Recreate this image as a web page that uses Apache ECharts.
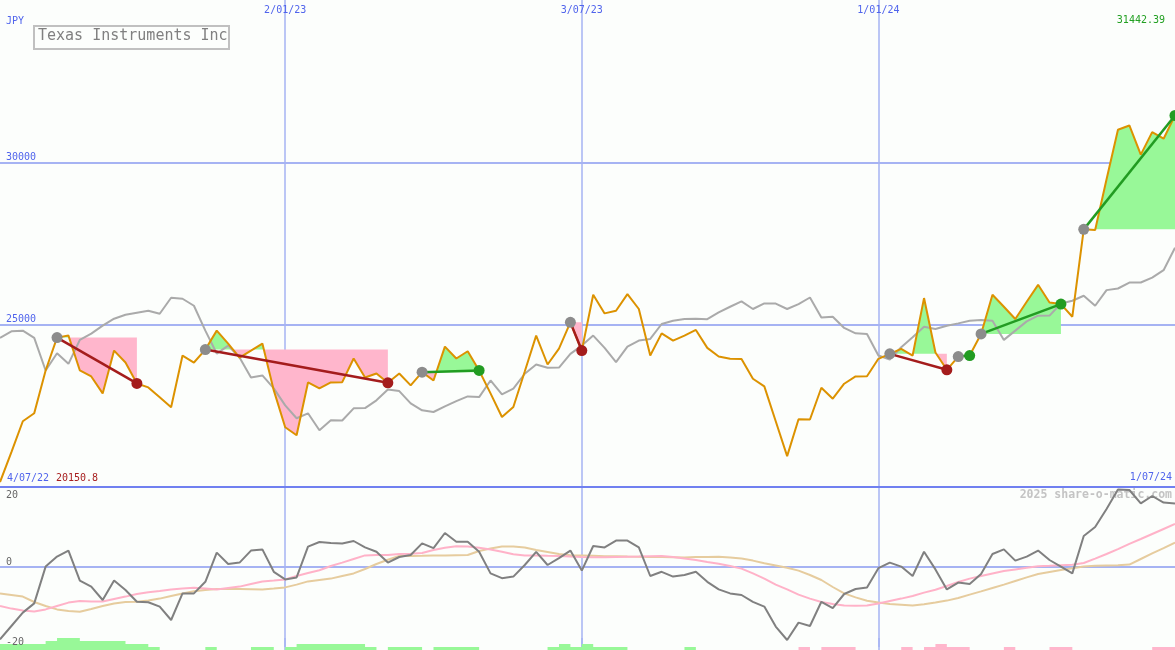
<!DOCTYPE html>
<html>
<head>
<meta charset="utf-8">
<script src="https://cdn.jsdelivr.net/npm/echarts@6/dist/echarts.min.js"></script>
<style>
html,body{margin:0;padding:0;background:#fcfefc;}
#chart{width:1175px;height:650px;}
</style>
</head>
<body>
<div id="chart"></div>
<script>
// ---------- data ----------
const dates = [
'11/07/22','18/07/22','25/07/22','1/08/22','8/08/22','15/08/22','22/08/22','29/08/22','5/09/22','12/09/22','19/09/22','26/09/22','3/10/22','10/10/22','17/10/22','24/10/22','31/10/22','7/11/22','14/11/22','21/11/22','28/11/22','5/12/22','12/12/22','19/12/22','26/12/22',
'2/01/23','9/01/23','16/01/23','23/01/23','30/01/23','6/02/23','13/02/23','20/02/23','27/02/23','6/03/23','13/03/23','20/03/23','27/03/23','3/04/23','10/04/23','17/04/23','24/04/23','1/05/23','8/05/23','15/05/23','22/05/23','29/05/23','5/06/23','12/06/23','19/06/23','26/06/23',
'3/07/23','10/07/23','17/07/23','24/07/23','31/07/23','7/08/23','14/08/23','21/08/23','28/08/23','4/09/23','11/09/23','18/09/23','25/09/23','2/10/23','9/10/23','16/10/23','23/10/23','30/10/23','6/11/23','13/11/23','20/11/23','27/11/23','4/12/23','11/12/23','18/12/23','25/12/23',
'1/01/24','8/01/24','15/01/24','22/01/24','29/01/24','5/02/24','12/02/24','19/02/24','26/02/24','4/03/24','11/03/24','18/03/24','25/03/24','1/04/24','8/04/24','15/04/24','22/04/24','29/04/24','6/05/24','13/05/24','20/05/24','27/05/24','3/06/24','10/06/24','17/06/24','24/06/24','1/07/24'
];
const tickLabels = ['2/01/23','3/07/23','1/01/24'];
const rangeStart = '4/07/22';
const priceTicks = [25000, 30000];
const oscTicks = [20, 0, -20];

const price = [
 20150.8, 21074, 22025, 22270, 23589, 24601, 24663, 23589, 23405, 22883,
 24202, 23834, 23190, 23067, 22761, 22454, 24049, 23834, 24233, 24816,
 24417, 23988, 24202, 24417, 22975, 21840, 21595, 23221, 23037, 23221,
 23230, 23957, 23374, 23497, 23210, 23497, 23129, 23537, 23282, 24325,
 23957, 24181, 23589, 22883, 22156, 22463, 23558, 24663, 23773, 24264,
 25071, 24202, 25920, 25347, 25429, 25942, 25482, 24049, 24733, 24509,
 24663, 24837, 24285, 24018, 23948, 23940, 23334, 23098, 22025, 20951,
 22086, 22080, 23058, 22721, 23181, 23405, 23410, 23948, 24101, 24255,
 24049, 25819, 24141, 23610, 24018, 24049, 24715, 25920, 25552, 25175,
 25706, 26227, 25684, 25635, 25245, 27936, 27914, 29479, 31003, 31135,
 30236, 30929, 30727, 31442.39
];
const avg = [
 24592, 24794, 24816, 24592, 23589, 24120, 23794, 24531, 24724, 24969,
 25184, 25307, 25368, 25429, 25337, 25828, 25798, 25583, 24816, 24110,
 24356, 23988, 23374, 23436, 23037, 22515, 22117, 22270, 21748, 22055,
 22050, 22423, 22430, 22669, 23006, 22954, 22577, 22362, 22310, 22485,
 22647, 22791, 22770, 23282, 22853, 23028, 23488, 23773, 23672, 23680,
 24101, 24356, 24663, 24285, 23844, 24325, 24509, 24561, 25021, 25123,
 25175, 25180, 25170, 25377, 25552, 25715, 25482, 25653, 25650, 25482,
 25635, 25837, 25224, 25245, 24899, 24733, 24715, 24049, 23926, 24304,
 24610, 24939, 24868, 24969, 25040, 25123, 25144, 25120, 24531, 24816,
 25101, 25276, 25280, 25653, 25736, 25890, 25583, 26064, 26114, 26298,
 26300, 26451, 26678, 27371
];
const osc = [
 -18.1, -14.75, -11.4, -9.1, 0.1, 2.6, 4.1, -3.4, -4.9, -8.25,
 -3.4, -5.75, -8.7, -8.8, -9.9, -13.25, -6.6, -6.6, -3.7, 3.6,
 0.75, 1.1, 4.1, 4.4, -1.2, -3.1, -2.6, 5.1, 6.25, 6.0,
 5.9, 6.5, 4.9, 3.8, 1.1, 2.5, 3.0, 5.9, 4.7, 8.5,
 6.3, 6.3, 3.8, -1.6, -2.8, -2.4, 0.5, 3.8, 0.5, 2.2,
 4.1, -0.9, 5.25, 4.9, 6.6, 6.6, 4.9, -2.25, -1.2, -2.4,
 -2.0, -1.2, -3.7, -5.6, -6.6, -7.0, -8.7, -9.9, -14.9, -18.25,
 -13.9, -14.75, -8.7, -10.3, -6.75, -5.5, -5.1, -0.3, 1.1, 0.1,
 -2.25, 3.8, -0.6, -5.6, -3.9, -4.25, -1.75, 3.25, 4.4, 1.6,
 2.6, 4.1, 1.75, 0.1, -1.6, 7.75, 10, 14.5, 19.4, 19.25,
 15.9, 17.75, 16.1, 15.9
];
const oscFast = [
 -9.75, -10.4, -10.9, -11.1, -10.6, -9.75, -8.9, -8.5, -8.6, -8.6,
 -8.0, -7.4, -6.75, -6.3, -6.0, -5.6, -5.4, -5.2, -5.4, -5.6,
 -5.25, -4.9, -4.25, -3.6, -3.4, -3.1, -2.25, -1.5, -0.8, 0.25,
 1.1, 2.0, 2.9, 3.0, 3.0, 3.25, 3.3, 3.5, 4.25, 4.8,
 5.2, 5.1, 4.8, 4.4, 3.8, 3.2, 2.9, 2.9, 2.8, 2.75,
 2.6, 2.5, 2.45, 2.45, 2.5, 2.55, 2.6, 2.7, 2.75, 2.5,
 2.1, 1.75, 1.25, 0.8, 0.25, -0.4, -1.6, -2.9, -4.4, -5.6,
 -6.9, -7.9, -8.75, -9.25, -9.6, -9.7, -9.6, -9.1, -8.5, -7.9,
 -7.25, -6.4, -5.7, -4.75, -3.75, -2.9, -2.25, -1.6, -1.0, -0.6,
 -0.2, 0.2, 0.3, 0.45, 0.55, 1.0, 2.1, 3.25, 4.45, 5.8,
 7.0, 8.25, 9.5, 10.75
];
const oscSlow = [
 -6.6, -7.0, -7.4, -8.75, -9.75, -10.6, -11.0, -11.2, -10.5, -9.75,
 -9.1, -8.75, -8.7, -8.4, -7.9, -7.25, -6.6, -6.05, -5.75, -5.5,
 -5.5, -5.5, -5.55, -5.6, -5.4, -5.1, -4.4, -3.6, -3.25, -2.9,
 -2.25, -1.6, -0.5, 0.75, 1.8, 2.75, 2.75, 2.8, 2.9, 2.9,
 2.95, 3.0, 4.0, 4.6, 5.1, 5.1, 4.9, 4.25, 3.75, 3.25,
 2.95, 2.9, 2.8, 2.7, 2.7, 2.6, 2.55, 2.5, 2.5, 2.45,
 2.4, 2.5, 2.5, 2.55, 2.35, 2.1, 1.6, 0.95, 0.4, -0.2,
 -0.9, -2.0, -3.25, -5.0, -6.6, -7.6, -8.45, -8.9, -9.25, -9.45,
 -9.65, -9.3, -8.9, -8.4, -7.75, -6.9, -6.1, -5.25, -4.4, -3.5,
 -2.6, -1.75, -1.25, -0.75, -0.3, 0.1, 0.3, 0.4, 0.45, 0.6,
 2.0, 3.4, 4.7, 6.1
];
const barsUp = [
 2,2,2,2,3,4,4,3,3,3,
 3,2,2,1,0,0,0,0,1,0,
 0,0,1,1,0,1,2,2,2,2,
 2,2,1,0,1,1,1,0,1,1,
 1,1,0,0,0,0,0,0,1,2,
 1,2,1,1,1,0,0,0,0,0,
 1,0,0,0,0,0,0,0,0,0,
 0,0,0,0,0,0,0,0,0,0,
 0,0,0,0,0,0,0,0,0,0,
 0,0,0,0,0,0,0,0,0,0,
 0,0,0,0
];
const barsDown = [
 0,0,0,0,0,0,0,0,0,0,
 0,0,0,0,0,0,0,0,0,0,
 0,0,0,0,0,0,0,0,0,0,
 0,0,0,0,0,0,0,0,0,0,
 0,0,0,0,0,0,0,0,0,0,
 0,0,0,0,0,0,0,0,0,0,
 0,0,0,0,0,0,0,0,0,0,
 1,0,1,1,1,0,0,0,0,1,
 0,1,2,1,1,0,0,0,1,0,
 0,0,1,1,0,0,0,0,0,0,
 0,1,1,0
];
const tradeEntry = [5, 18, 37, 50, 78, 84, 86, 95];
const tradeExit  = [12, 34, 42, 51, 83, 85, 93, 103];

// ---------- styles ----------
const MONO = '"DejaVu Sans Mono", "Liberation Mono", monospace';
const BLUE = '#5064ec';
const GRID_BLUE = '#a6b3f3';
const GAIN_FILL = '#98f898', LOSS_FILL = '#ffb6cc';
const GAIN_LINE = '#229c22', LOSS_LINE = '#a41c1c';

const chart = echarts.init(document.getElementById('chart'), null, {renderer: 'canvas'});
const showTick = (i, v) => tickLabels.indexOf(v) >= 0;
const vSplit = {show: true, interval: showTick, lineStyle: {color: GRID_BLUE, width: 1.5}};

const tradeData = tradeEntry.map((e, k) => [e, price[e], tradeExit[k], price[tradeExit[k]]]);
const isGain = k => price[tradeExit[k]] > price[tradeEntry[k]];

const option = {
  backgroundColor: '#fcfefc',
  animation: false,
  grid: [
    {left: 0, right: 0, top: -2, height: 489},
    {left: 0, right: 0, top: 487, height: 160},
    {left: 0, right: 0, top: 638, height: 12}
  ],
  xAxis: [
    {type: 'category', gridIndex: 0, data: dates, boundaryGap: false, position: 'top',
     axisLine: {show: false}, axisTick: {show: false},
     axisLabel: {inside: true, interval: showTick, color: BLUE, fontFamily: MONO, fontSize: 10, margin: 5},
     splitLine: vSplit},
    {type: 'category', gridIndex: 0, data: dates, boundaryGap: false, position: 'bottom',
     axisLine: {show: true, lineStyle: {color: '#7080f0', width: 2}}, axisTick: {show: false},
     axisLabel: {show: false}, splitLine: {show: false}},
    {type: 'category', gridIndex: 1, data: dates, boundaryGap: false, position: 'bottom',
     axisLine: {show: true, onZero: true, lineStyle: {color: GRID_BLUE, width: 2}}, axisTick: {show: false},
     axisLabel: {show: false}, splitLine: vSplit},
    {type: 'category', gridIndex: 2, data: dates, boundaryGap: false,
     axisLine: {show: false}, axisTick: {show: false}, axisLabel: {show: false}, splitLine: vSplit}
  ],
  yAxis: [
    {type: 'value', gridIndex: 0, min: 20000, max: 35000, interval: 5000,
     axisLine: {show: false}, axisTick: {show: false},
     axisLabel: {inside: true, margin: 6, verticalAlign: 'bottom', color: BLUE, fontFamily: MONO, fontSize: 10,
       formatter: v => priceTicks.indexOf(v) >= 0 ? String(v) : ''},
     splitLine: {show: true, lineStyle: {color: ['transparent', GRID_BLUE, GRID_BLUE, 'transparent'], width: 2}}},
    {type: 'value', gridIndex: 1, min: -20, max: 20, interval: 20, z: 20,
     axisLine: {show: false}, axisTick: {show: false}, splitLine: {show: false},
     axisLabel: {inside: true, margin: 6, color: '#666666', fontFamily: MONO, fontSize: 10,
       showMinLabel: true, showMaxLabel: true,
       formatter: v => oscTicks.indexOf(v) < 0 ? '' : (v === oscTicks[0] ? '{lo|' + v + '}' : '{hi|' + v + '}'),
       rich: {lo: {padding: [16, 0, 0, 0], color: '#666666', fontFamily: MONO, fontSize: 10},
              hi: {padding: [0, 0, 9, 0], color: '#666666', fontFamily: MONO, fontSize: 10}}}},
    {type: 'value', gridIndex: 2, min: 0, max: 4, show: false}
  ],
  graphic: [
    {type: 'rect', left: 33, top: 25, shape: {width: 195, height: 23}, style: {fill: 'transparent', stroke: '#c0c0c0', lineWidth: 2}, z: 10},
    {type: 'text', left: 38, top: 29, style: {text: 'Texas Instruments Inc', fill: '#808080', font: '15px ' + MONO}, z: 10},
    {type: 'text', left: 6, top: 16, style: {text: 'JPY', fill: BLUE, font: '10px ' + MONO}, z: 10},
    {type: 'text', right: 10, top: 15, style: {text: price[price.length - 1].toFixed(2), fill: '#22a022', font: '10px ' + MONO}, z: 10},
    {type: 'text', left: 7, top: 473, style: {text: rangeStart, fill: BLUE, font: '10px ' + MONO}, z: 10},
    {type: 'text', left: 56, top: 473, style: {text: String(price[0]), fill: '#a82020', font: '10px ' + MONO}, z: 10},
    {type: 'text', right: 3, top: 472, style: {text: dates[dates.length - 1], fill: BLUE, font: '10px ' + MONO}, z: 10},
    {type: 'text', right: 3, top: 489, style: {text: '2025 share-o-matic.com', fill: '#c4c4c4', font: 'bold 11.5px ' + MONO}, z: 0}
  ],
  series: [
    {type: 'line', name: 'barsUp', xAxisIndex: 3, yAxisIndex: 2, data: barsUp, step: 'end', symbol: 'none',
     lineStyle: {width: 0, opacity: 0}, areaStyle: {color: GAIN_FILL, opacity: 1}, z: 1},
    {type: 'line', name: 'barsDown', xAxisIndex: 3, yAxisIndex: 2, data: barsDown, step: 'end', symbol: 'none',
     lineStyle: {width: 0, opacity: 0}, areaStyle: {color: LOSS_FILL, opacity: 1}, z: 1},
    {type: 'line', name: 'slow', xAxisIndex: 2, yAxisIndex: 1, data: oscSlow, symbol: 'none',
     lineStyle: {color: '#e6cc9e', width: 2}, z: 2},
    {type: 'line', name: 'fast', xAxisIndex: 2, yAxisIndex: 1, data: oscFast, symbol: 'none',
     lineStyle: {color: '#ffb2c8', width: 2}, z: 3},
    {type: 'line', name: 'osc', xAxisIndex: 2, yAxisIndex: 1, data: osc, symbol: 'none',
     lineStyle: {color: '#808080', width: 2}, z: 4},
    {type: 'custom', name: 'tradeFill', xAxisIndex: 0, yAxisIndex: 0, data: tradeData,
     encode: {x: 0, y: 1}, z: 1,
     renderItem: function (params, api) {
       const k = params.dataIndex;
       const e = tradeEntry[k], x = tradeExit[k];
       const level = price[e];
       const ly = api.coord([e, level])[1];
       const pts = [];
       for (let i = e; i <= x; i++) pts.push(api.coord([i, price[i]]));
       const up = [], dn = [];
       for (let j = 0; j < pts.length; j++) {
         const p = pts[j];
         if (j > 0) {
           const q = pts[j - 1];
           if ((q[1] - ly) * (p[1] - ly) < 0) {
             const t = (ly - q[1]) / (p[1] - q[1]);
             const c = [q[0] + t * (p[0] - q[0]), ly];
             up.push(c); dn.push(c);
           }
         }
         up.push([p[0], Math.min(p[1], ly)]);
         dn.push([p[0], Math.max(p[1], ly)]);
       }
       const x0 = pts[0][0], x1 = pts[pts.length - 1][0];
       up.push([x1, ly], [x0, ly]);
       dn.push([x1, ly], [x0, ly]);
       return {type: 'group', children: [
         {type: 'polygon', shape: {points: up}, style: {fill: GAIN_FILL}},
         {type: 'polygon', shape: {points: dn}, style: {fill: LOSS_FILL}}
       ]};
     }},
    {type: 'line', name: 'avg', xAxisIndex: 0, yAxisIndex: 0, data: avg, symbol: 'none',
     lineStyle: {color: '#aaaaaa', width: 2}, z: 2},
    {type: 'line', name: 'price', xAxisIndex: 0, yAxisIndex: 0, data: price, symbol: 'none',
     lineStyle: {color: '#dc9200', width: 2}, z: 3},
    {type: 'custom', name: 'tradeLine', xAxisIndex: 0, yAxisIndex: 0, data: tradeData,
     encode: {x: 0, y: 1}, z: 4,
     renderItem: function (params, api) {
       const k = params.dataIndex;
       const a = api.coord([tradeEntry[k], price[tradeEntry[k]]]);
       const b = api.coord([tradeExit[k], price[tradeExit[k]]]);
       return {type: 'line', shape: {x1: a[0], y1: a[1], x2: b[0], y2: b[1]},
               style: {stroke: isGain(k) ? GAIN_LINE : LOSS_LINE, lineWidth: 2.5}};
     }},
    {type: 'scatter', name: 'entry', xAxisIndex: 0, yAxisIndex: 0,
     data: tradeEntry.map(e => [e, price[e]]), symbolSize: 11,
     itemStyle: {color: '#8c8c8c', opacity: 1}, z: 5},
    {type: 'scatter', name: 'exit', xAxisIndex: 0, yAxisIndex: 0,
     data: tradeExit.map((x, k) => ({value: [x, price[x]], itemStyle: {color: isGain(k) ? GAIN_LINE : LOSS_LINE}})),
     symbolSize: 11, itemStyle: {opacity: 1}, z: 6}
  ]
};
chart.setOption(option);
</script>
</body>
</html>
